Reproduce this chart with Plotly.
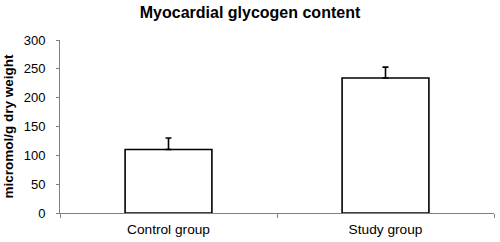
import plotly.graph_objects as go

categories = ["Control group", "Study group"]
values = [110, 234]
errors_up = [20, 19]

fig = go.Figure()
fig.add_trace(go.Bar(
    x=categories, y=values,
    width=0.4,
    marker=dict(color="white", line=dict(color="black", width=1.6)),
    error_y=dict(type="data", array=errors_up, arrayminus=[0, 0], symmetric=False,
                 color="black", thickness=1.6, width=3),
))

fig.update_layout(
    width=500, height=242,
    margin=dict(l=60, r=6, t=40, b=29, autoexpand=False),
    paper_bgcolor="white", plot_bgcolor="white",
    showlegend=False,
    font=dict(family="Liberation Sans, Arial, sans-serif", color="black", size=13),
    title=dict(text="<b>Myocardial glycogen content</b>", x=0.5, xanchor="center",
               y=1 - 12 / 242, yanchor="middle", yref="container",
               font=dict(size=16, color="black")),
)
fig.update_xaxes(
    type="category", range=[-0.5, 1.5],
    showline=True, linecolor="#808080", linewidth=1,
    ticks="outside", tickson="boundaries", ticklen=4, tickcolor="#808080",
    showgrid=False, zeroline=False,
    ticklabelstandoff=4,
    tickfont=dict(size=13.7),
)
fig.update_yaxes(
    range=[0, 300], dtick=50,
    showline=True, linecolor="#808080", linewidth=1,
    ticks="outside", ticklen=3, tickcolor="#808080",
    showgrid=False, zeroline=False,
    ticklabelstandoff=8,
    tickfont=dict(size=13),
    title=dict(text="<b>micromol/g dry weight</b>", font=dict(size=13.5), standoff=6),
)

fig.write_html("out.html", config={"displayModeBar": False},
               post_script="document.body.style.margin='0';")
